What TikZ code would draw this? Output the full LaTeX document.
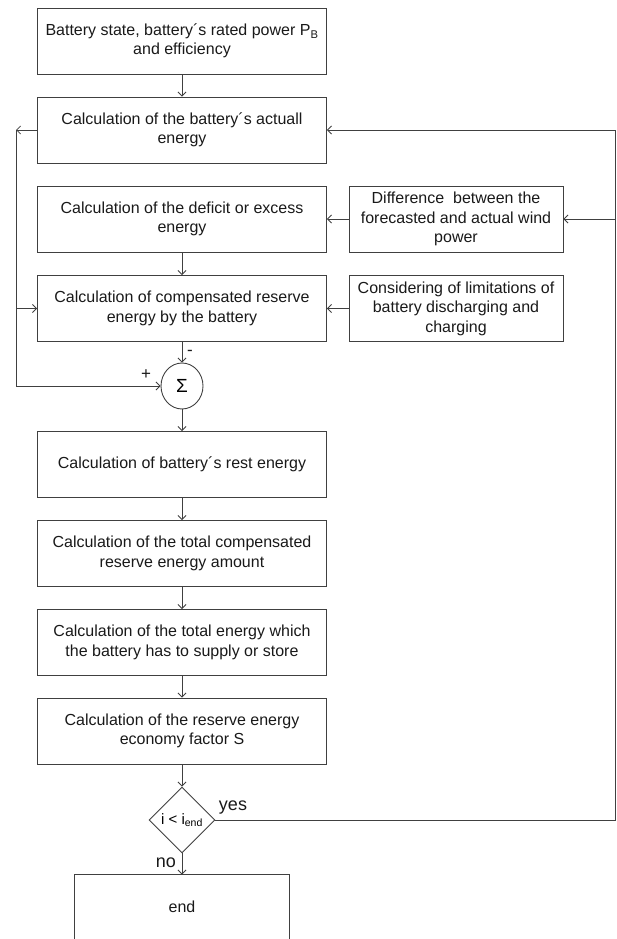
\documentclass[tikz,border=0pt]{standalone}
\usepackage{fontspec}
\setmainfont{Liberation Sans}
\usetikzlibrary{shapes.geometric,arrows.meta,positioning,calc}

\tikzset{
  block/.style={draw=black!75, line width=0.9pt, rectangle, minimum width=289pt,
    minimum height=66pt, align=center, inner sep=0pt, text=black!90,
    font=\fontsize{16}{19.5}\selectfont},
  sidebox/.style={block, minimum width=214pt},
  sumnode/.style={draw=black!75, line width=0.9pt, ellipse, minimum width=42pt,
    minimum height=46pt, inner sep=0pt, font=\fontsize{19}{19}\selectfont},
  decision/.style={draw=black!75, line width=0.9pt, diamond, minimum width=66pt,
    minimum height=66pt, inner sep=0pt, font=\fontsize{15}{15}\selectfont},
  line/.style={draw=black!75, line width=0.8pt},
  arr/.style={line, -{Straight Barb[length=4pt,width=8pt]}},
  lbl/.style={font=\fontsize{17}{17}\selectfont, inner sep=0pt, text=black!90}
}

\begin{document}
\begin{tikzpicture}[x=1pt, y=-1pt]
  \useasboundingbox (0,0) rectangle (617,939);

  % main column
  \node[block] (bat)  at (182,41)    {Battery state, battery´s rated power P\textsubscript{B}\\and efficiency};
  \node[block] (act)  at (182,130)   {Calculation of the battery´s actuall\\energy};
  \node[block] (defi) at (182,219)   {Calculation of the deficit or excess\\energy};
  \node[block] (comp) at (182,308.5) {Calculation of compensated reserve\\energy by the battery};
  \node[sumnode] (sum) at (182,386)  {Σ};
  \node[block] (rest) at (182,464.5) {Calculation of battery´s rest energy};
  \node[block] (tot)  at (182,553.5) {Calculation of the total compensated\\reserve energy amount};
  \node[block] (sup)  at (182,642.5) {Calculation of the total energy which\\the battery has to supply or store};
  \node[block] (fac)  at (182,731)   {Calculation of the reserve energy\\economy factor S};
  \node[decision] (dec) at (182,820) {i < i\textsubscript{end}};
  \node[block, draw=none, minimum width=214pt, minimum height=64pt] (fin) at (182,907) {end};
  \draw[line] (fin.south west) -- (fin.north west) -- (fin.north east) -- (fin.south east);

  % side inputs
  \node[sidebox] (diff) at (456,219)   {Difference\ \ between the\\forecasted and actual wind\\power};
  \node[sidebox] (lim)  at (456,308.5) {Considering of limitations of\\battery discharging and\\charging};

  % feedback lines
  \coordinate (ltop) at (16,130);
  \coordinate (lbot) at (16,386);
  \coordinate (rtop) at (615,130);

  \draw[arr] (bat) -- (act);
  \draw[arr] (act.west) -- (ltop);
  \draw[arr] (ltop) -- (lbot) -- (sum.west);
  \draw[arr] (ltop |- comp.west) -- (comp.west);
  \draw[arr] (dec.east) -| (rtop) -- (act.east);
  \draw[arr] (rtop |- diff.east) -- (diff.east);
  \draw[arr] (diff) -- (defi);
  \draw[arr] (lim) -- (comp);
  \draw[arr] (defi) -- (comp);
  \draw[arr] (comp) -- (sum);
  \draw[arr] (sum) -- (rest);
  \draw[arr] (rest) -- (tot);
  \draw[arr] (tot) -- (sup);
  \draw[arr] (sup) -- (fac);
  \draw[arr] (fac) -- (dec);
  \draw[arr] (dec) -- (fin);

  % signs and branch labels
  \node[lbl] (plus)  at (146,375) {+};
  \node[lbl] (minus) at (190,353) {-};
  \node[lbl, font=\fontsize{18}{18}\selectfont] (yes) at (233,808) {yes};
  \node[lbl, font=\fontsize{18}{18}\selectfont] (no)  at (166,863) {no};
\end{tikzpicture}
\end{document}
